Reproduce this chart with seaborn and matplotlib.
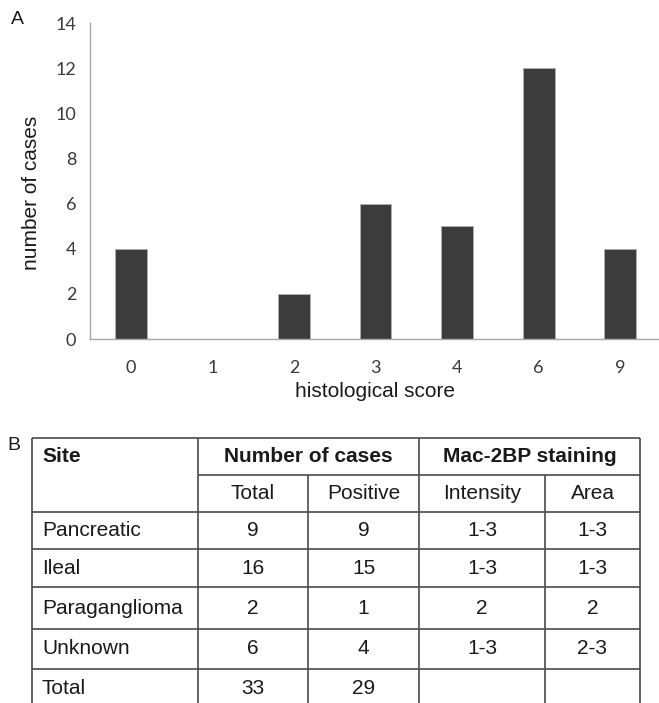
import matplotlib
matplotlib.use('Agg')
import matplotlib.pyplot as plt
import seaborn as sns
import pandas as pd

# 柱状图数据
scores = ['0', '1', '2', '3', '4', '6', '9']
counts = [4, 0, 2, 6, 5, 12, 4]

# 表格数据
sites = ['Pancreatic', 'Ileal', 'Paraganglioma', 'Unknown', 'Total']
total_cases = ['9', '16', '2', '6', '33']
positive_cases = ['9', '15', '1', '4', '29']
intensity = ['1-3', '1-3', '2', '1-3', '']
area = ['1-3', '1-3', '2', '2-3', '']
sub_headers = ['Total', 'Positive', 'Intensity', 'Area']

sns.set_style('white')
plt.rcParams['font.family'] = ['Liberation Sans', 'DejaVu Sans']

W, H = 659, 703
fig = plt.figure(figsize=(W / 100, H / 100), dpi=100)

# A: 柱状图
ax = fig.add_axes([90 / W, 1 - 339 / H, 571 / W, 316 / H])
df = pd.DataFrame({'score': scores, 'cases': counts})
sns.barplot(data=df, x='score', y='cases', color='#3c3c3c', saturation=1,
            width=0.39, edgecolor='#b0b0b0', linewidth=0.6, ax=ax)
ax.set_xlim(-0.5, 6.5)
ax.set_ylim(0, 14)
ax.set_yticks(range(0, 15, 2))
sns.despine(ax=ax)
for s in ['left', 'bottom']:
    ax.spines[s].set_color('#a8a8a8')
    ax.spines[s].set_linewidth(1)
ax.tick_params(axis='y', length=4, color='#a8a8a8', width=1, pad=6, labelsize=13, labelcolor='#3a3a3a')
ax.tick_params(axis='x', length=0, pad=15, labelsize=13, labelcolor='#3a3a3a')
for lbl in ax.get_xticklabels() + ax.get_yticklabels():
    lbl.set_fontfamily('Lato')
ax.set_ylabel('number of cases', fontsize=15, color='#1a1a1a')
ax.set_xlabel('histological score', fontsize=15, color='#1a1a1a')
ax.yaxis.set_label_coords(41 / W, 1 - 193 / H, transform=fig.transFigure)
ax.xaxis.set_label_coords(375 / W, 1 - 382 / H, transform=fig.transFigure)

# B: 表格 (像素坐标)
ov = fig.add_axes([0, 0, 1, 1])
ov.set_xlim(0, W)
ov.set_ylim(H, 0)
ov.axis('off')
ov.patch.set_alpha(0)

ov.text(11, 20, 'A', fontsize=14, va='center', ha='left', color='#1a1a1a')
ov.text(7, 446, 'B', fontsize=14, va='center', ha='left', color='#1a1a1a')

cols = [32, 198, 308, 419, 545, 640]
rows = [438, 475, 512, 549, 587, 629, 669, 707]
lc = '#4a4a4a'
lw = 1.2
# 横线
ov.hlines(rows[0], cols[0], cols[-1], color=lc, lw=lw)
ov.hlines(rows[1], cols[1], cols[-1], color=lc, lw=lw)
for y in rows[2:]:
    ov.hlines(y, cols[0], cols[-1], color=lc, lw=lw)
# 竖线
for x in [cols[0], cols[1], cols[3], cols[5]]:
    ov.vlines(x, rows[0], rows[-1], color=lc, lw=lw)
for x in [cols[2], cols[4]]:
    ov.vlines(x, rows[1], rows[-1], color=lc, lw=lw)

fs = 15
tc = '#1a1a1a'
yh = (rows[0] + rows[1]) / 2
ov.text(cols[0] + 10, yh, 'Site', fontsize=fs, fontweight='bold', va='center', ha='left', color=tc)
ov.text((cols[1] + cols[3]) / 2, yh, 'Number of cases', fontsize=fs, fontweight='bold', va='center', ha='center', color=tc)
ov.text((cols[3] + cols[5]) / 2, yh, 'Mac-2BP staining', fontsize=fs, fontweight='bold', va='center', ha='center', color=tc)
ys = (rows[1] + rows[2]) / 2
for i, h in enumerate(sub_headers):
    ov.text((cols[i + 1] + cols[i + 2]) / 2, ys, h, fontsize=fs, va='center', ha='center', color=tc)

for r, vals in enumerate(zip(sites, total_cases, positive_cases, intensity, area)):
    y = (rows[r + 2] + rows[r + 3]) / 2
    ov.text(cols[0] + 10, y, vals[0], fontsize=fs, va='center', ha='left', color=tc)
    for c in range(1, 5):
        ov.text((cols[c] + cols[c + 1]) / 2, y, vals[c], fontsize=fs, va='center', ha='center', color=tc)

fig.savefig('out.png', dpi=100)
